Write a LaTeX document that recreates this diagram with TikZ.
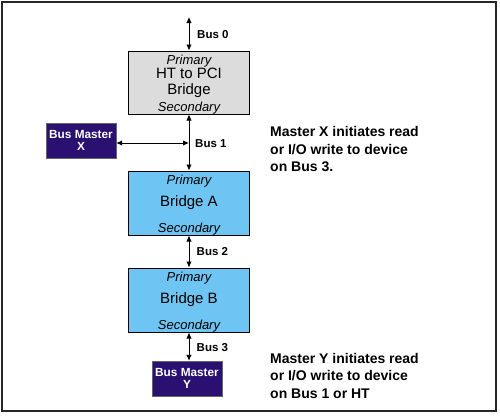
\documentclass[tikz,border=0pt]{standalone}
\usepackage{fontspec}
\setmainfont{Liberation Sans}
\usetikzlibrary{arrows.meta,positioning}
\definecolor{bridgegray}{RGB}{220,220,220}
\definecolor{bridgeblue}{RGB}{110,196,242}
\definecolor{masternavy}{RGB}{42,16,112}
\tikzset{
	bridge/.style={draw=black, line width=1pt, minimum width=121pt, minimum height=63pt, inner sep=0pt, align=center, font=\fontsize{15}{16}\selectfont},
	master/.style={draw=black!60, fill=masternavy, text=white, minimum width=70pt, minimum height=35pt, inner sep=0pt, align=center, font=\bfseries\fontsize{11.8}{12.5}\selectfont},
	tag/.style={font=\itshape\fontsize{13}{14}\selectfont, inner sep=0pt},
	buslabel/.style={font=\bfseries\fontsize{11.5}{12}\selectfont, anchor=west, inner sep=0pt},
	note/.style={font=\bfseries\fontsize{14}{17.5}\selectfont, align=left, anchor=north west, inner sep=0pt},
	bus/.style={line width=0.9pt, {Latex[length=6pt,width=5.5pt]}-{Latex[length=6pt,width=5.5pt]}}
}

\begin{document}
\begin{tikzpicture}[x=1pt, y=-1pt]
			%%%%% START %%%%%
			
			\useasboundingbox (0, 0) rectangle (500, 415);
			\draw[line width=2pt, black!85] (1.5, 1.5) rectangle (496, 411);
			
			\node[bridge, fill=bridgegray] (htpci) at (189, 82.5) {HT to PCI\\Bridge};
			\node[tag, below=4.5pt of htpci.north] (htpri) {Primary};
			\node[tag, above=0pt of htpci.south] (htsec) {Secondary};
			
			\node[bridge, fill=bridgeblue, minimum height=64pt] (brA) at (189, 203) {Bridge A};
			\node[tag, below=4.5pt of brA.north] (brApri) {Primary};
			\node[tag, above=0pt of brA.south] (brAsec) {Secondary};
			
			\node[bridge, fill=bridgeblue, minimum height=64pt] (brB) at (189, 300) {Bridge B};
			\node[tag, below=4.5pt of brB.north] (brBpri) {Primary};
			\node[tag, above=0pt of brB.south] (brBsec) {Secondary};
			
			\node[master] (mX) at (81, 140.5) {Bus Master\\X};
			\node[master] (mY) at (187, 378.5) {Bus Master\\Y};
			
			\coordinate (bus0top) at (189, 17);
			\coordinate (bus1) at (189, 143);
			
			\draw[bus] (bus0top) -- (htpci.north);
			\draw[bus] (htpci.south) -- (brA.north);
			\draw[bus] (mX.east |- bus1) -- (bus1);
			\draw[bus] (brA.south) -- (brB.north);
			\draw[bus] (brB.south) -- (brB.south |- mY.north);
			
			\node[buslabel] (lbus0) at (197, 34.5) {Bus 0};
			\node[buslabel] (lbus1) at (195, 144) {Bus 1};
			\node[buslabel] (lbus2) at (196.5, 251.5) {Bus 2};
			\node[buslabel] (lbus3) at (196.5, 347.5) {Bus 3};
			
			\node[note] (noteX) at (270, 126.5) {Master X initiates read\\or I/O write to device\\on Bus 3.};
			\node[note] (noteY) at (270, 353) {Master Y initiates read\\or I/O write to device\\on Bus 1 or HT};
			
			%%%%% END %%%%%
		\end{tikzpicture}
\end{document}
